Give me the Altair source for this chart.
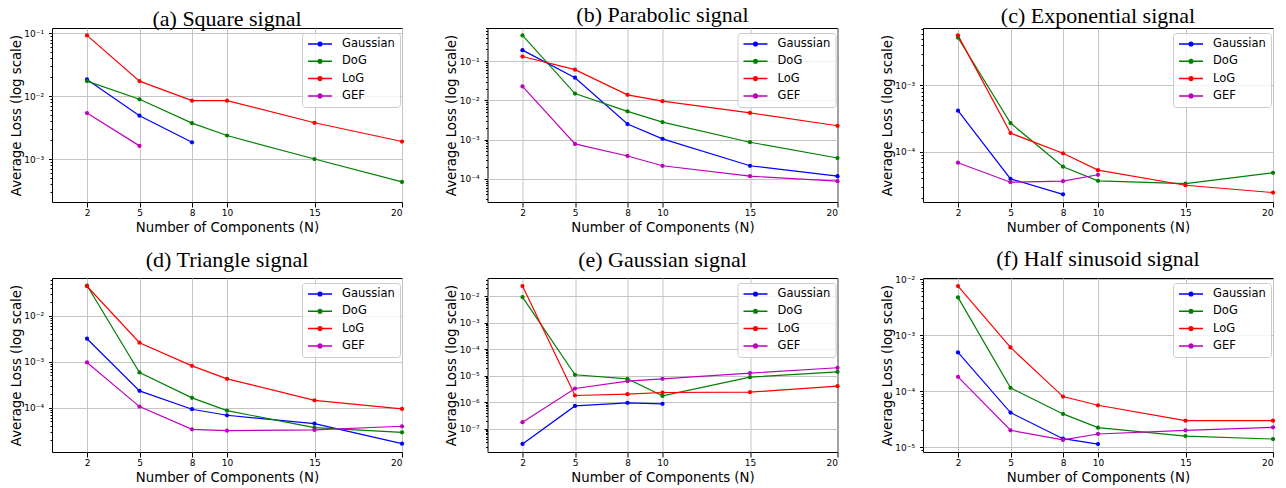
import math
import altair as alt
import pandas as pd

# ---------------- data ----------------
N = [2, 5, 8, 10, 15, 20]
METHODS = ["Gaussian", "DoG", "LoG", "GEF"]
COLORS = ["#0000ff", "#008000", "#ff0000", "#bf00bf"]

TITLES = ["(a) Square signal", "(b) Parabolic signal", "(c) Exponential signal",
          "(d) Triangle signal", "(e) Gaussian signal", "(f) Half sinusoid signal"]

# (a) Square
square_gaussian = [0.0185, 0.0049, 0.00185]
square_dog = [0.0174, 0.00895, 0.00373, 0.00237, 0.00100, 0.000432]
square_log = [0.093, 0.0174, 0.0085, 0.0085, 0.00378, 0.0019]
square_gef = [0.0054, 0.00162]

# (b) Parabolic
parabolic_gaussian = [0.192, 0.038, 0.0025, 0.00105, 0.000216, 0.000117]
parabolic_dog = [0.457, 0.0150, 0.00528, 0.00281, 0.00086, 0.00034]
parabolic_log = [0.132, 0.061, 0.0139, 0.0096, 0.0048, 0.00226]
parabolic_gef = [0.0228, 0.00078, 0.000384, 0.000216, 0.000117, 0.0000873]

# (c) Exponential
exponential_gaussian = [4.18e-4, 3.94e-5, 2.31e-5]
exponential_dog = [5.21e-3, 2.72e-4, 6.0e-5, 3.68e-5, 3.35e-5, 4.86e-5]
exponential_log = [5.66e-3, 1.92e-4, 9.55e-5, 5.33e-5, 3.16e-5, 2.45e-5]
exponential_gef = [6.89e-5, 3.51e-5, 3.64e-5, 4.54e-5]

# (d) Triangle
triangle_gaussian = [3.15e-3, 2.31e-4, 9.2e-5, 6.8e-5, 4.48e-5, 1.64e-5]
triangle_dog = [0.0452, 5.8e-4, 1.63e-4, 8.6e-5, 3.66e-5, 2.9e-5]
triangle_log = [0.0437, 2.58e-3, 8.1e-4, 4.22e-4, 1.44e-4, 9.35e-5]
triangle_gef = [9.6e-4, 1.05e-4, 3.37e-5, 3.15e-5, 3.26e-5, 3.92e-5]

# (e) Gaussian
gaussian_gaussian = [2.62e-8, 7.2e-7, 9.4e-7, 8.6e-7]
gaussian_dog = [9.4e-3, 1.08e-5, 7.6e-6, 1.72e-6, 8.8e-6, 1.4e-5]
gaussian_log = [0.0246, 1.78e-6, 2.0e-6, 2.31e-6, 2.38e-6, 4.02e-6]
gaussian_gef = [1.74e-7, 3.27e-6, 6.2e-6, 7.6e-6, 1.25e-5, 1.99e-5]

# (f) Half sinusoid
halfsin_gaussian = [4.88e-4, 4.12e-5, 1.41e-5, 1.13e-5]
halfsin_dog = [4.7e-3, 1.14e-4, 3.9e-5, 2.22e-5, 1.57e-5, 1.39e-5]
halfsin_log = [7.5e-3, 6.0e-4, 7.96e-5, 5.57e-5, 2.96e-5, 2.96e-5]
halfsin_gef = [1.79e-4, 1.99e-5, 1.34e-5, 1.71e-5, 1.99e-5, 2.25e-5]

SERIES = [
    [square_gaussian, square_dog, square_log, square_gef],
    [parabolic_gaussian, parabolic_dog, parabolic_log, parabolic_gef],
    [exponential_gaussian, exponential_dog, exponential_log, exponential_gef],
    [triangle_gaussian, triangle_dog, triangle_log, triangle_gef],
    [gaussian_gaussian, gaussian_dog, gaussian_log, gaussian_gef],
    [halfsin_gaussian, halfsin_dog, halfsin_log, halfsin_gef],
]

Y_DOMAINS = [
    [2.07e-4, 0.122],
    [2.57e-5, 0.705],
    [1.77e-5, 7.3e-3],
    [1.08e-5, 0.066],
    [1.3e-8, 0.0494],
    [8.15e-6, 0.01043],
]
X_DOMAIN = [0, 20]
X_TICKS = [2, 5, 8, 10, 15, 20]

# ---------------- style ----------------
SANS = "DejaVu Sans"
SERIF = "Liberation Serif"
W, H = 350, 174
SUP = "['⁰','¹','²','³','⁴','⁵','⁶','⁷','⁸','⁹']"
MAJOR = "abs(log(datum.value)/LN10 - round(log(datum.value)/LN10)) < 0.001"
LEGEND_PATH = ("M-1,0L1,0 "
               "M-0.15,0A0.15,0.15 0 1,0 0.15,0A0.15,0.15 0 1,0 -0.15,0 "
               "M-0.07,0A0.07,0.07 0 1,0 0.07,0A0.07,0.07 0 1,0 -0.07,0")


def log_ticks(lo, hi):
    out = []
    for k in range(math.floor(math.log10(lo)), math.ceil(math.log10(hi)) + 1):
        for m in range(1, 10):
            v = m * 10.0 ** k
            if lo <= v <= hi:
                out.append(v)
    return out


def panel(i):
    rows = []
    for method, vals in zip(METHODS, SERIES[i]):
        for n, v in zip(N, vals):
            rows.append({"N": n, "loss": v, "method": method})
    df = pd.DataFrame(rows)
    lo, hi = Y_DOMAINS[i]
    yaxis = alt.Axis(
        values=log_ticks(lo, hi),
        title="Average Loss (log scale)",
        labelExpr=f"({MAJOR}) ? '10⁻' + {SUP}[-round(log(datum.value)/LN10)] : ''",
        tickSize={"condition": {"test": MAJOR, "value": 3.5}, "value": 2},
        gridOpacity={"condition": {"test": MAJOR, "value": 1}, "value": 0},
        labelOverlap=False,
        labelPadding=5,
        titleX=-36,
        titleBaseline="middle",
    )
    xaxis = alt.Axis(values=X_TICKS, title="Number of Components (N)",
                     labelPadding=1.5, titlePadding=3)
    legend = alt.Legend(
        orient="none", legendX=250, legendY=5, title=None,
        symbolType=LEGEND_PATH, symbolSize=576, symbolStrokeWidth=1.5,
        clipHeight=12,
        labelFont=SANS, labelFontSize=11.5, labelColor="black",
        padding=5, rowPadding=5.3, labelOffset=9,
        strokeColor="#cccccc", fillColor="rgba(255,255,255,0.8)", cornerRadius=3,
    )
    offset = -3 if i < 3 else 4
    ch = alt.Chart(df).mark_line(
        strokeWidth=1.2,
        point=alt.OverlayMarkDef(filled=True, size=18),
    ).encode(
        x=alt.X("N:Q", scale=alt.Scale(domain=X_DOMAIN, nice=False, zero=False), axis=xaxis),
        y=alt.Y("loss:Q", scale=alt.Scale(type="log", domain=[lo, hi], nice=False), axis=yaxis),
        color=alt.Color("method:N", sort=METHODS,
                        scale=alt.Scale(domain=METHODS, range=COLORS), legend=legend),
        order=alt.Order("N:Q"),
    ).properties(
        width=W, height=H,
        title=alt.TitleParams(TITLES[i], font=SERIF, fontSize=22, fontWeight="normal",
                              color="black", offset=offset),
    )
    return ch


charts = [panel(i) for i in range(6)]

chart = alt.ConcatChart(
    concat=charts, columns=3,
    spacing={"row": 76, "column": 85.5},
    bounds="flush",
).resolve_scale(
    color="independent", y="independent", x="independent"
).configure_view(
    stroke="black", strokeWidth=1
).configure_axis(
    domain=False,
    grid=True, gridColor="#c4c4c4", gridWidth=1,
    tickColor="black", tickWidth=1,
    labelFont=SANS, labelFontSize=9, labelColor="black",
    titleFont=SANS, titleFontSize=13.3, titleFontWeight="normal", titleColor="black",
).properties(
    padding={"left": 0, "top": -5, "right": 0, "bottom": 0}
)

chart.save("out.html", embed_options={"renderer": "svg", "actions": False})
